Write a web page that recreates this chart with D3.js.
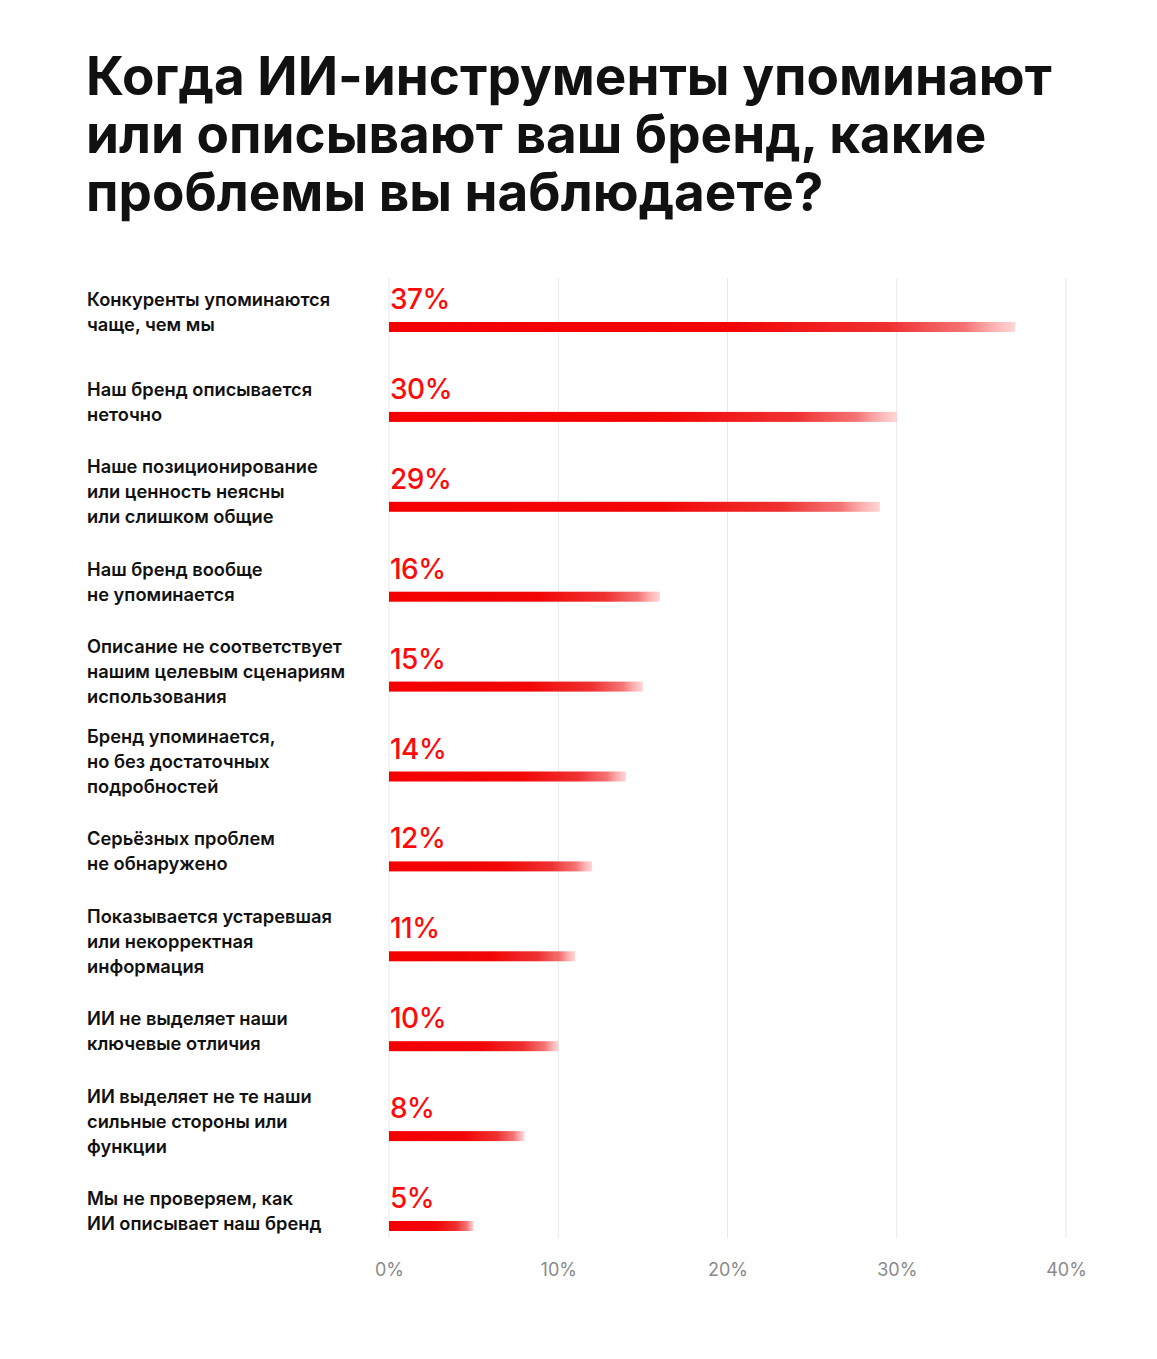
<!DOCTYPE html>
<html><head><meta charset="utf-8">
<script src="https://cdn.jsdelivr.net/npm/d3@7"></script>
<style>
html,body{margin:0;padding:0;background:#fff;}
svg{display:block;}
</style></head>
<body>
<svg id="chart" width="1157" height="1359"></svg>
<script>
const titleLines = ["Когда ИИ-инструменты упоминают", "или описывают ваш бренд, какие", "проблемы вы наблюдаете?"];
const categories = [
  ["Конкуренты упоминаются", "чаще, чем мы"],
  ["Наш бренд описывается", "неточно"],
  ["Наше позиционирование", "или ценность неясны", "или слишком общие"],
  ["Наш бренд вообще", "не упоминается"],
  ["Описание не соответствует", "нашим целевым сценариям", "использования"],
  ["Бренд упоминается,", "но без достаточных", "подробностей"],
  ["Серьёзных проблем", "не обнаружено"],
  ["Показывается устаревшая", "или некорректная", "информация"],
  ["ИИ не выделяет наши", "ключевые отличия"],
  ["ИИ выделяет не те наши", "сильные стороны или", "функции"],
  ["Мы не проверяем, как", "ИИ описывает наш бренд"]
];
const values = [37, 30, 29, 16, 15, 14, 12, 11, 10, 8, 5];
const tickValues = [0, 10, 20, 30, 40];
const tickLabels = ["0%", "10%", "20%", "30%", "40%"];

const svg = d3.select("#chart");
const font = "Inter, 'Noto Sans', sans-serif";

// Title
const title = svg.append("g");
titleLines.forEach((t, i) => {
  title.append("text")
    .attr("x", 86).attr("y", 95 + i * 58)
    .attr("font-family", font).attr("font-weight", 700)
    .attr("font-size", 50).attr("fill", "#111")
    .text(t);
});
// fit the first line to the reference title width
const w0 = title.select("text").node().getComputedTextLength();
const fs = 50 * 966 / w0;
title.selectAll("text").attr("font-size", fs);

const x = d3.scaleLinear().domain([0, 40]).range([389, 1066]);
const y = d3.scalePoint().domain(d3.range(values.length)).range([327, 1226]);

// Grid
svg.append("g").selectAll("line").data(tickValues).join("line")
  .attr("x1", d => x(d)).attr("x2", d => x(d))
  .attr("y1", 278).attr("y2", 1238)
  .attr("stroke", "#e8e8e8").attr("stroke-width", 1);

// Axis
const axis = d3.axisBottom(x).tickValues(tickValues).tickFormat((d, i) => tickLabels[i]).tickSize(0).tickPadding(0);
const ag = svg.append("g").attr("transform", "translate(0,1263)").call(axis);
ag.select(".domain").remove();
ag.selectAll("text").attr("font-family", font).attr("font-size", 18)
  .attr("fill", "#8a8a8a").attr("dy", "0.71em");

// Gradient
const defs = svg.append("defs");
const grad = defs.append("linearGradient").attr("id", "barGrad")
  .attr("x1", "0").attr("x2", "1").attr("y1", "0").attr("y2", "0");
[[0, "#f50000", 1], [0.55, "#f20606", 1], [0.8, "#ee2626", 0.95], [0.92, "#f25050", 0.8], [1, "#ff8a8a", 0.35]]
  .forEach(s => grad.append("stop").attr("offset", s[0]).attr("stop-color", s[1]).attr("stop-opacity", s[2]));

// Bars
const barH = 10;
svg.append("g").selectAll("rect").data(values).join("rect")
  .attr("x", x(0)).attr("y", (d, i) => y(i) - barH / 2)
  .attr("width", d => x(d) - x(0)).attr("height", barH)
  .attr("fill", "url(#barGrad)");

// Value labels
svg.append("g").selectAll("text").data(values).join("text")
  .attr("x", x(0) + 1).attr("y", (d, i) => y(i) - 18)
  .attr("font-family", font).attr("font-weight", 500).attr("font-size", 28)
  .attr("fill", "#ff0a0a").attr("letter-spacing", "-0.5")
  .text(d => d + "%");

// Category labels
const lh = 25;
const cg = svg.append("g");
categories.forEach((lines, i) => {
  const n = lines.length;
  const center = y(i) - 15;
  const firstCenter = center - (n - 1) * lh / 2;
  const t = cg.append("text").attr("font-family", font).attr("font-weight", 600)
    .attr("font-size", 18.3).attr("fill", "#111");
  lines.forEach((l, j) => {
    t.append("tspan").attr("x", 87).attr("y", firstCenter + j * lh).attr("dy", "0.35em").text(l);
  });
});
</script>
</body></html>
